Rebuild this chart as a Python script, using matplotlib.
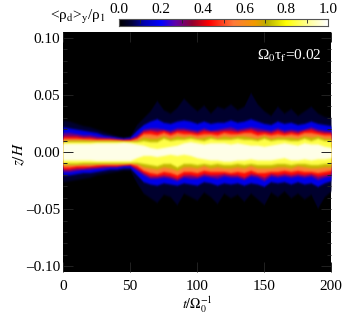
import numpy as np
import matplotlib
matplotlib.use('Agg')
import matplotlib.pyplot as plt
from matplotlib.colors import LinearSegmentedColormap, to_rgb

plt.rcParams['font.family'] = 'Liberation Serif'
plt.rcParams['mathtext.fontset'] = 'stix'

# time samples and z of each density level, in units of 0.001
t = np.arange(0, 205, 5)
levels = [0.05, 0.18, 0.30, 0.44, 0.56, 0.72, 0.85, 0.98]

top = [
 [28,27,25,23,22,20,18,16,14,13, 14,24,30,36,45,37,34,39,47,41, 36,41,34,40,38,42,37,40,52,42, 36,32,40,34,38,32,36,40,34,31, 30],
 [22,21,20,19,18,17,15,14,13,12, 13,19,24,27,29,26,25,27,28,27, 25,27,25,26,26,28,26,27,29,27, 25,24,27,25,26,24,25,27,25,24, 23],
 [17,17,16,15,15,14,13,13,12,11.5, 12,15,20,21,21,20,19,21,21,20, 19,21,19,20,21,22,20,21,22,21, 20,19,21,19,20,19,20,22,20,19, 18],
 [14,14,14,13,13,12,12,11.5,11,10.5, 11,13,18,19,18,19,17,19,19,18, 17,19,18,18,19,19,18,19,20,18, 18,17,19,17,18,17,19,20,18,17, 17],
 [12,12,12,11.5,11.5,11,11,11,10.5,10, 10,12,16,16,15,17,15,17,16,16, 15,16,16,15,17,16,16,17,17,15, 16,15,16,15,16,15,17,17,16,15, 15],
 [10.5,10.5,10.5,10.5,10,10,10,10,10,9.5, 9.5,10,13,12,12,14,12,14,13,14, 12,13,14,12,14,13,14,14,13,12, 14,12,13,13,13,12,14,13,14,12, 12],
 [9,9,9,9,9,9,9,9,9,9, 9,9,10,9,9,12,10,11,11,12, 11,10,12,11,11,11,12,11,11,10, 12,10,11,11,10,10,12,10,12,10, 10],
 [7.5,7.5,7.5,7.5,7.5,8,8,8,8,8.5, 8,7,6,4,3,4,5,6,8,9, 8,7,8,8,8,7,8,7,6,6, 5,6,7,8,7,6,8,7,7,5, 4],
]
bottom = [
 [26,25,24,23,22,20,19,18,17,16, 16,27,36,40,44,37,39,46,36,39, 42,35,39,45,36,40,37,43,36,41, 46,35,39,34,40,36,41,37,49,39, 34],
 [20,20,19,18,18,17,16,15,15,14, 14,20,26,28,29,27,28,29,27,28, 29,26,27,29,27,28,27,29,27,28, 30,26,27,26,28,26,28,27,30,27, 25],
 [17,17,16,15,15,14,14,13,13,12, 12,16,20,23,23,22,23,25,22,23, 23,21,22,23,21,22,22,24,21,22, 25,21,22,21,22,21,22,21,24,22, 21],
 [15,15,14,14,13,13,12,12,12,11, 11,14,18,21,21,20,21,23,20,20, 21,19,20,20,19,20,20,22,19,20, 22,19,20,19,20,19,20,19,21,20, 19],
 [13,13,12,12,12,11,11,11,11,10.5, 10,12,16,18,19,17,18,20,17,17, 18,16,17,17,17,18,17,18,16,18, 18,17,17,16,17,16,17,17,18,17, 16],
 [11,11,11,10.5,10.5,10.5,10,10,10,10, 9.5,10,13,14,15,13,14,16,13,13, 14,12,14,13,14,14,13,14,12,14, 14,14,13,13,14,12,13,14,14,13, 13],
 [9.5,9.5,9.5,9,9,9,9,9,9,9, 9,9,10,11,12,10,10,13,10,10, 11,10,11,10,11,11,10,11,10,11, 11,11,10,10,11,10,10,11,11,10, 10],
 [7,7,7,7,7,7.5,7.5,7.5,7.5,7.5, 7.5,5,3,3,4,3,2,3,2,3, 5,6,7,7,8,8,7,7,6,7, 7,7,6,5,7,7,6,7,6,6, 5],
]

cbar_ticks = [0.0, 0.2, 0.4, 0.6, 0.8, 1.0]
t_ticks = [0, 50, 100, 150, 200]
z_ticks = [-0.10, -0.05, 0.00, 0.05, 0.10]

cmap = LinearSegmentedColormap.from_list('dust', [
    (0.00, '#000000'), (0.06, '#00003c'), (0.12, '#0000b0'), (0.20, '#0000ff'), (0.27, '#6000a8'),
    (0.35, '#900030'), (0.43, '#ff0000'), (0.55, '#ff7b3a'), (0.65, '#f29a00'),
    (0.71, '#b8b000'), (0.80, '#ffff00'), (0.90, '#ffff90'), (1.00, '#ffffff')])


def soften(color, sigma=0.8):
    # blur only the alpha vertically, so the bands melt into each other
    rgb = to_rgb(color)
    x = np.arange(-4, 5)
    kern = np.exp(-x**2/(2*sigma**2))
    kern = kern/kern.sum()
    def f(img, dpi):
        a = np.pad(img[:, :, 3], ((4, 4), (0, 0)))
        b = np.apply_along_axis(lambda c: np.convolve(c, kern, mode='same'), 0, a)
        out = np.zeros(b.shape + (4,))
        out[:, :, 0], out[:, :, 1], out[:, :, 2] = rgb
        out[:, :, 3] = b
        return out, 0, -4
    return f


fig = plt.figure(figsize=(3.43, 3.16), dpi=100)
ax = fig.add_axes([63/343, 1-272/316, 268/343, 240/316])
ax.set_facecolor('black')
for lev, u, d in zip(levels, top, bottom):
    band = ax.fill_between(t, -np.array(d)/1000, np.array(u)/1000, color=cmap(lev), lw=0)
    band.set_agg_filter(soften(cmap(lev)))
ax.set_xlim(0, 200)
ax.set_ylim(-0.105, 0.105)
ax.set_xticks(t_ticks)
ax.set_yticks(z_ticks)
ax.set_yticklabels(['\u20130.10', '\u20130.05', '0.00', '0.05', '0.10'])
ax.set_yticks(np.arange(-0.10, 0.101, 0.01), minor=True)
ax.tick_params(which='major', direction='in', length=7, width=0.7, top=True, right=True, labelsize=11, color='#222222')
ax.tick_params(axis='y', which='major', pad=2)
ax.tick_params(axis='x', which='major', pad=6)
ax.tick_params(which='minor', direction='in', length=3, width=0.7, right=True, color='#222222')
for s in ax.spines.values():
    s.set_visible(False)
ax.set_xlabel(r'$t/\mathrm{\Omega}_0^{-1}$', fontsize=10)
ax.xaxis.set_label_coords(0.5, -0.093)
ax.set_ylabel(r'$z/H$', fontsize=11)
ax.yaxis.set_label_coords(-0.135, 0.49)
ax.text(0.725, 0.885, '\u03a9$_{\\mathrm{0}}$\u03c4$_{\\mathrm{f}}$=0.02', transform=ax.transAxes, color='white', fontsize=11)

cax = fig.add_axes([119/343, 1-26/316, 209/343, 7.5/316])
cax.imshow(np.linspace(0, 1, 256)[None, :], aspect='auto', cmap=cmap, extent=[0, 1, 0, 1])
cax.set_yticks([])
cax.set_xticks(cbar_ticks)
cax.set_xticks(np.arange(0, 1.01, 0.1), minor=True)
cax.xaxis.tick_top()
cax.tick_params(which='major', direction='in', length=0, labelsize=11, pad=2)
cax.tick_params(which='minor', direction='in', length=3, width=0.6, color='#222222', top=True, bottom=False)
cax.set_xticklabels(['%.1f' % v for v in cbar_ticks])
for s in cax.spines.values():
    s.set_color('#555555')
fig.text(78/343, 1-17/316, '<\u03c1$_{\\mathrm{d}}$>$_{\\mathrm{y}}$/\u03c1$_{\\mathrm{1}}$', fontsize=11, va='center', ha='center')

fig.savefig('out.png', dpi=100)
